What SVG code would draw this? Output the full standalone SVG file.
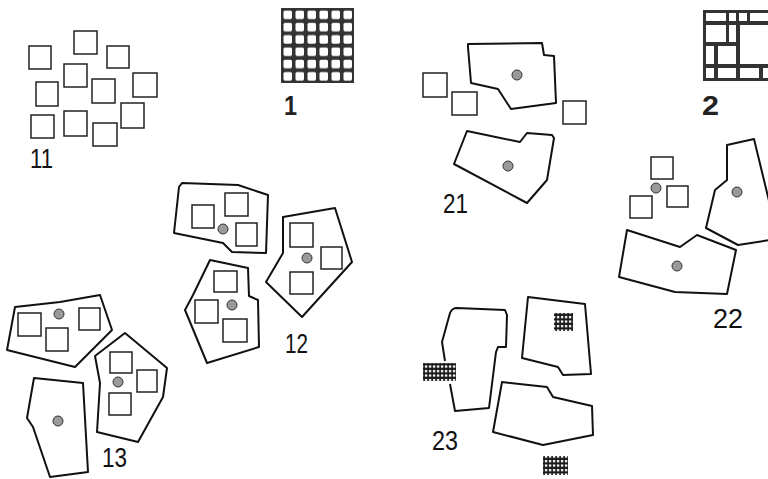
<svg xmlns="http://www.w3.org/2000/svg" width="768" height="479" viewBox="0 0 768 479">
<defs>
<style>
.p{fill:none;stroke:#111;stroke-width:2;stroke-linejoin:round}
.s{fill:none;stroke:#222;stroke-width:1.5}
.d{fill:#9a9a9a;stroke:#333;stroke-width:1}
.t{font-family:"Liberation Sans",Arial,sans-serif;font-size:28px;fill:#111}
.b{font-family:"Liberation Sans",Arial,sans-serif;font-size:27px;font-weight:bold;fill:#222}
.g{fill:#333}
.w{fill:#fff}
</style>
<pattern id="cells" patternUnits="userSpaceOnUse" x="281" y="8" width="12" height="12.3">
<rect x="2.5" y="2.5" width="8.5" height="8.5" rx="1.5" fill="#fff"/>
</pattern>
<pattern id="hatch" patternUnits="userSpaceOnUse" x="0" y="0" width="4" height="4.5">
<rect x="0.9" y="1" width="2.4" height="2.2" fill="#fff"/>
</pattern>
</defs>
<rect width="768" height="479" fill="#fff"/>

<g id="n11">
<rect class="s" x="74" y="31" width="23" height="23"/>
<rect class="s" x="29" y="46" width="22" height="23"/>
<rect class="s" x="107" y="46" width="22" height="22"/>
<rect class="s" x="64" y="64" width="23" height="23"/>
<rect class="s" x="36" y="82" width="22" height="24"/>
<rect class="s" x="92" y="79" width="23" height="24"/>
<rect class="s" x="133" y="73" width="24" height="24"/>
<rect class="s" x="31" y="115" width="23" height="23"/>
<rect class="s" x="64" y="111" width="23" height="25"/>
<rect class="s" x="121" y="103" width="23" height="25"/>
<rect class="s" x="93" y="123" width="24" height="23"/>
<text class="t" x="30" y="168" textLength="23" lengthAdjust="spacingAndGlyphs">11</text>
</g>

<g id="n1">
<rect class="g" x="281" y="8" width="73" height="75"/>
<rect x="282" y="9" width="71" height="73" fill="url(#cells)"/>
<text class="b" x="284" y="115" textLength="13" lengthAdjust="spacingAndGlyphs">1</text>
</g>

<g id="n2">
<rect class="g" x="703" y="10" width="70" height="71"/>
<rect class="w" x="706" y="13" width="20" height="8"/>
<rect class="w" x="729" y="13" width="7" height="8"/>
<rect class="w" x="739" y="13" width="8" height="8"/>
<rect class="w" x="750" y="13" width="20" height="8"/>
<rect class="w" x="706" y="25" width="20" height="17"/>
<rect class="w" x="729" y="25" width="7" height="17"/>
<rect class="w" x="740" y="25" width="30" height="39"/>
<rect class="w" x="706" y="46" width="8" height="18"/>
<rect class="w" x="718" y="46" width="18" height="18"/>
<rect class="w" x="706" y="68" width="8" height="10"/>
<rect class="w" x="718" y="68" width="18" height="10"/>
<rect class="w" x="740" y="68" width="19" height="10"/>
<rect class="w" x="763" y="68" width="7" height="10"/>
<text class="b" x="702" y="115" textLength="17" lengthAdjust="spacingAndGlyphs">2</text>
</g>

<g id="n21">
<polygon class="p" points="468,44 542,43 544,55 554,56 556,103 511,109 498,89 471,83 468,47"/>
<circle class="d" cx="517" cy="75" r="5"/>
<rect class="s" x="423" y="73" width="24" height="24"/>
<rect class="s" x="452" y="92" width="25" height="23"/>
<rect class="s" x="563" y="101" width="23" height="23"/>
<polygon class="p" points="467,131 520,142 527,133 552,135 554,138 547,180 527,203 454,164"/>
<circle class="d" cx="508" cy="166" r="5"/>
<text class="t" x="443" y="213" textLength="25" lengthAdjust="spacingAndGlyphs">21</text>
</g>

<g id="n22">
<rect class="s" x="651" y="157" width="22" height="22"/>
<rect class="s" x="667" y="186" width="21" height="21"/>
<rect class="s" x="630" y="196" width="22" height="22"/>
<circle class="d" cx="656" cy="188" r="5"/>
<polygon class="p" points="727,145 754,139 770,205 770,240 738,245 706,228 715,190 727,180"/>
<circle class="d" cx="737" cy="192" r="5"/>
<polygon class="p" points="627,230 680,247 697,235 736,250 727,294 675,292 619,277"/>
<circle class="d" cx="677" cy="266" r="5"/>
<text class="t" x="713" y="328" textLength="30" lengthAdjust="spacingAndGlyphs">22</text>
</g>

<g id="n12">
<polygon class="p" points="182,183 238,185 268,195 266,253 232,252 223,243 174,233 179,187"/>
<rect class="s" x="192" y="205" width="22" height="23"/>
<rect class="s" x="225" y="193" width="23" height="23"/>
<rect class="s" x="236" y="223" width="21" height="23"/>
<circle class="d" cx="223" cy="229" r="5"/>
<polygon class="p" points="283,217 335,208 352,262 302,317 266,282 283,253"/>
<rect class="s" x="290" y="223" width="23" height="24"/>
<rect class="s" x="321" y="247" width="21" height="22"/>
<rect class="s" x="290" y="272" width="23" height="22"/>
<circle class="d" cx="307" cy="258" r="5"/>
<polygon class="p" points="210,260 248,268 249,296 258,300 259,347 207,363 185,310 193,295"/>
<rect class="s" x="214" y="271" width="23" height="21"/>
<rect class="s" x="195" y="300" width="23" height="23"/>
<rect class="s" x="223" y="319" width="24" height="23"/>
<circle class="d" cx="232" cy="305" r="5"/>
<text class="t" x="285" y="353" textLength="23" lengthAdjust="spacingAndGlyphs">12</text>
</g>

<g id="n13">
<polygon class="p" points="15,307 60,302 100,295 112,330 75,367 7,350"/>
<rect class="s" x="18" y="313" width="23" height="23"/>
<rect class="s" x="46" y="328" width="22" height="23"/>
<rect class="s" x="79" y="308" width="21" height="22"/>
<circle class="d" cx="59" cy="314" r="5"/>
<polygon class="p" points="95,356 125,333 167,368 163,397 138,442 97,432 100,383"/>
<rect class="s" x="110" y="352" width="22" height="21"/>
<rect class="s" x="137" y="370" width="20" height="22"/>
<rect class="s" x="109" y="393" width="22" height="22"/>
<circle class="d" cx="118" cy="382" r="5"/>
<polygon class="p" points="34,378 83,383 88,472 50,477 33,427 27,418"/>
<circle class="d" cx="58" cy="421" r="5"/>
<text class="t" x="102" y="467" textLength="25" lengthAdjust="spacingAndGlyphs">13</text>
</g>

<g id="n23">
<path class="p" d="M450,384 L455,411 L489,408 L496,352 L498,347 L506,347 L507,315 L505,310 L457,308 Q452,308 450,313 L442,342 L445,361"/>
<rect x="423" y="363" width="33" height="18" fill="#1a1a1a"/>
<rect x="423" y="363" width="33" height="18" fill="url(#hatch)"/>
<polygon class="p" points="528,297 585,304 591,374 563,375 558,367 522,358"/>
<rect x="554" y="313" width="19" height="18" fill="#1a1a1a"/>
<rect x="554" y="313" width="19" height="18" fill="url(#hatch)"/>
<polygon class="p" points="502,382 547,387 553,397 592,406 593,435 543,445 493,432"/>
<rect x="543" y="456" width="25" height="19" fill="#1a1a1a"/>
<rect x="543" y="456" width="25" height="19" fill="url(#hatch)"/>
<text class="t" x="432" y="450" textLength="26" lengthAdjust="spacingAndGlyphs">23</text>
</g>
</svg>
